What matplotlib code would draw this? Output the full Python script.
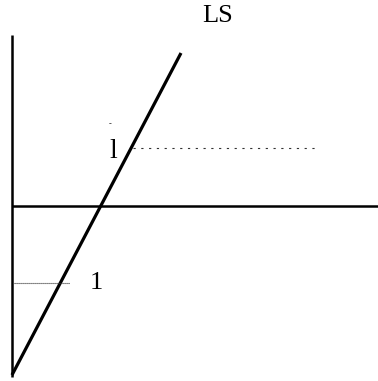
import matplotlib
matplotlib.use('Agg')
import matplotlib.pyplot as plt

# diagram data (units: horizontal axis at y=0, vertical axis at x=0)
ls_x = [0.0, 16.9]
ls_y = [-16.9, 15.3]
vaxis_y = [-17.1, 17.1]
haxis_x = [0.0, 36.6]
upper_level = 5.8
upper_span = [12.1, 30.4]
lower_level = -7.7
lower_span = [0.2, 5.8]

plt.rcParams['font.family'] = ['Liberation Serif', 'DejaVu Serif']

fig = plt.figure(figsize=(3.78, 3.81), dpi=100)
ax = fig.add_axes([0, 0, 1, 1])
ax.set_xlim(-1.2, 36.6)
ax.set_ylim(-17.5, 20.6)
ax.axis('off')

# axes of the diagram
ax.plot([0, 0], vaxis_y, color='black', lw=1.8, solid_capstyle='butt')
ax.plot(haxis_x, [0, 0], color='black', lw=1.8, solid_capstyle='butt')

# LS curve
ax.plot(ls_x, ls_y, color='black', lw=2.3, solid_capstyle='butt')

# dashed reference lines
ax.plot(upper_span, [upper_level, upper_level], color='#333333', lw=0.8,
        linestyle=(0, (2, 5)))
ax.plot(lower_span, [lower_level, lower_level], color='#333333', lw=0.8,
        linestyle=(0, (1, 0.8)))

# labels
ax.text(20.6, 19.0, 'LS', fontsize=19, ha='center', va='center')
ax.text(10.1, 5.5, 'l', fontsize=20, ha='center', va='center')
ax.text(9.8, 8.2, '-', fontsize=6, ha='center', va='center')
ax.text(8.4, -7.7, '1', fontsize=19, ha='center', va='center')

fig.savefig('out.png', dpi=100, facecolor='white')
plt.close()
